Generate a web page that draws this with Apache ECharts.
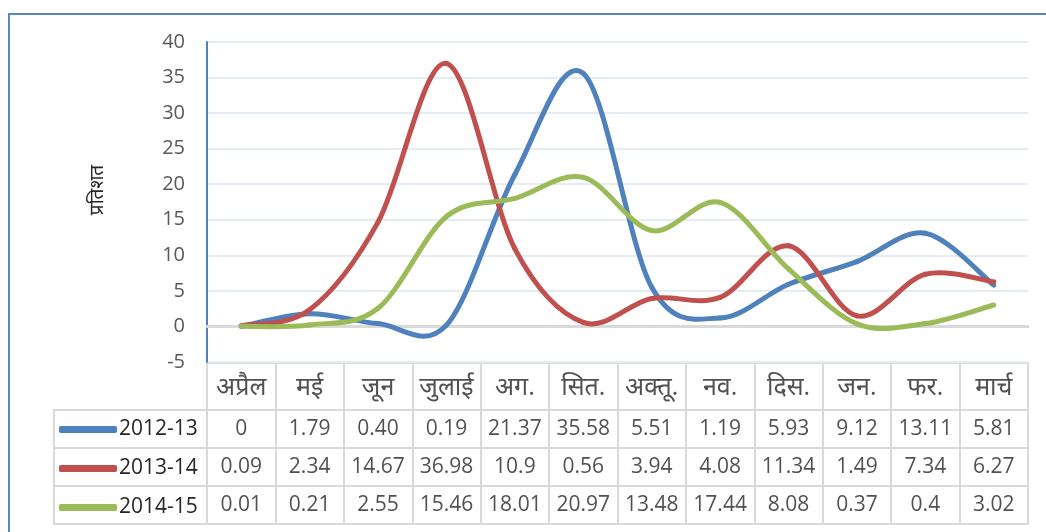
<!DOCTYPE html>
<html>
<head>
<meta charset="utf-8">
<script src="https://cdn.jsdelivr.net/npm/echarts@6/dist/echarts.min.js"></script>
<style>
html,body{margin:0;padding:0;background:#fff;}
#c{width:1046px;height:532px;}
</style>
</head>
<body>
<div id="c"></div>
<script>
// ---- data ----
var months = ['अप्रैल','मई','जून','जुलाई','अग.','सित.','अक्तू.','नव.','दिस.','जन.','फर.','मार्च'];
var seriesNames = ['2012-13','2013-14','2014-15'];
var v2012 = ['0','1.79','0.40','0.19','21.37','35.58','5.51','1.19','5.93','9.12','13.11','5.81'];
var v2013 = ['0.09','2.34','14.67','36.98','10.9','0.56','3.94','4.08','11.34','1.49','7.34','6.27'];
var v2014 = ['0.01','0.21','2.55','15.46','18.01','20.97','13.48','17.44','8.08','0.37','0.4','3.02'];
var yTicks = {min: -5, max: 40, interval: 5};
var yTitle = 'प्रतिशत';

var colors = ['#4F81BD', '#C0504D', '#9BBB59'];
var valueRows = [v2012, v2013, v2014];
var FONT = "'Open Sans', 'Noto Sans', sans-serif";
var TXT = '#262626';
var TABLE_LINE = '#D9D9D9';

var chart = echarts.init(document.getElementById('c'), null, {renderer: 'canvas'});

// Smoothed line (Catmull-Rom style, like spreadsheet smoothing) drawn through the axis scales
function makeSmoothSeries(name, vals, color) {
  var data = vals.map(function (v, i) { return [i, Number(v)]; });
  var n = data.length;
  return {
    name: name, type: 'custom', xAxisIndex: 0, yAxisIndex: 0,
    data: data, encode: {x: 0, y: 1}, silent: true, clip: false,
    itemStyle: {color: color},
    renderItem: function (params, api) {
      var i = params.dataIndex;
      if (i >= n - 1) return null;
      var p0 = api.coord(data[Math.max(i - 1, 0)]);
      var p1 = api.coord(data[i]);
      var p2 = api.coord(data[i + 1]);
      var p3 = api.coord(data[Math.min(i + 2, n - 1)]);
      var t = 1 / 6;
      return {
        type: 'bezierCurve',
        shape: {
          x1: p1[0], y1: p1[1], x2: p2[0], y2: p2[1],
          cpx1: p1[0] + (p2[0] - p0[0]) * t, cpy1: p1[1] + (p2[1] - p0[1]) * t,
          cpx2: p2[0] - (p3[0] - p1[0]) * t, cpy2: p2[1] - (p3[1] - p1[1]) * t
        },
        style: {stroke: color, lineWidth: 5, fill: null, lineCap: 'round', lineJoin: 'round'}
      };
    }
  };
}

var lineSeries = seriesNames.map(function (n, k) {
  return makeSmoothSeries(n, valueRows[k], colors[k]);
});

var headerCells = months.map(function (m, i) { return {value: [i, 0], label: {formatter: m}}; });
var valueCells = [];
valueRows.forEach(function (row, r) {
  row.forEach(function (v, i) { valueCells.push({value: [i, r], label: {formatter: v}}); });
});

var numLabel = {show: true, position: 'inside', color: TXT, fontSize: 21, fontFamily: FONT};
var headLabel = {show: true, position: 'inside', color: TXT, fontSize: 25, fontFamily: FONT, offset: [0, 1]};

var option = {
  animation: false,
  textStyle: {fontFamily: FONT},
  graphic: [{
    type: 'rect', silent: true,
    shape: {x: 9, y: 14, width: 1200, height: 700},
    style: {fill: 'none', stroke: '#5A86C5', lineWidth: 2}
  }],
  legend: {
    data: seriesNames.map(function (n, k) { return {name: n, itemStyle: {color: colors[k]}}; }),
    orient: 'vertical', left: 59, top: 419, padding: 0,
    icon: 'roundRect', itemWidth: 58, itemHeight: 7, itemGap: 18,
    textStyle: {color: TXT, fontSize: 21, fontFamily: FONT, lineHeight: 20, padding: [0, 0, 0, -3]},
    selectedMode: false
  },
  grid: [
    {left: 207, top: 42, width: 821, height: 320},
    {left: 207, top: 363, width: 821, height: 47, show: true, borderColor: TABLE_LINE, borderWidth: 2},
    {left: 207, top: 410, width: 821, height: 114, show: true, borderColor: TABLE_LINE, borderWidth: 2},
    {left: 54, top: 410, width: 153, height: 114, show: true, borderColor: TABLE_LINE, borderWidth: 2}
  ],
  xAxis: [
    {gridIndex: 0, type: 'category', data: months, boundaryGap: true,
     axisLine: {show: true, onZero: true, lineStyle: {color: '#D9D9D9', width: 3}},
     axisTick: {show: false}, axisLabel: {show: false}, splitLine: {show: false}},
    {gridIndex: 1, type: 'category', data: months, boundaryGap: true,
     axisLine: {show: false}, axisTick: {show: false}, axisLabel: {show: false},
     splitLine: {show: true, interval: 0, lineStyle: {color: TABLE_LINE, width: 2}}},
    {gridIndex: 2, type: 'category', data: months, boundaryGap: true,
     axisLine: {show: false}, axisTick: {show: false}, axisLabel: {show: false},
     splitLine: {show: true, interval: 0, lineStyle: {color: TABLE_LINE, width: 2}}},
    {gridIndex: 3, type: 'value', min: 0, max: 1, show: false}
  ],
  yAxis: [
    {gridIndex: 0, type: 'value', min: yTicks.min, max: yTicks.max, interval: yTicks.interval,
     name: yTitle, nameLocation: 'middle', nameGap: 100, nameRotate: 90,
     nameTextStyle: {color: TXT, fontSize: 19, fontFamily: FONT, padding: [0, 0, 0, 24]},
     axisLine: {show: true, lineStyle: {color: '#4F81BD', width: 2}},
     axisTick: {show: false},
     axisLabel: {color: '#595959', fontSize: 20, margin: 22, fontFamily: FONT},
     splitLine: {show: true, lineStyle: {color: '#E6ECF4', width: 2}}},
    {gridIndex: 1, type: 'category', data: [''], show: false},
    {gridIndex: 2, type: 'category', data: seriesNames, inverse: true,
     axisLine: {show: false}, axisTick: {show: false}, axisLabel: {show: false},
     splitLine: {show: true, interval: 0, lineStyle: {color: TABLE_LINE, width: 2}}},
    {gridIndex: 3, type: 'category', data: seriesNames, inverse: true,
     axisLine: {show: false}, axisTick: {show: false}, axisLabel: {show: false},
     splitLine: {show: true, interval: 0, lineStyle: {color: TABLE_LINE, width: 2}}}
  ],
  series: lineSeries.concat([
    {type: 'scatter', xAxisIndex: 1, yAxisIndex: 1, data: headerCells, symbolSize: 1,
     itemStyle: {color: 'rgba(0,0,0,0)'}, label: headLabel, silent: true},
    {type: 'scatter', xAxisIndex: 2, yAxisIndex: 2, data: valueCells, symbolSize: 1,
     itemStyle: {color: 'rgba(0,0,0,0)'}, label: numLabel, silent: true}
  ])
};
chart.setOption(option);
</script>
</body>
</html>
